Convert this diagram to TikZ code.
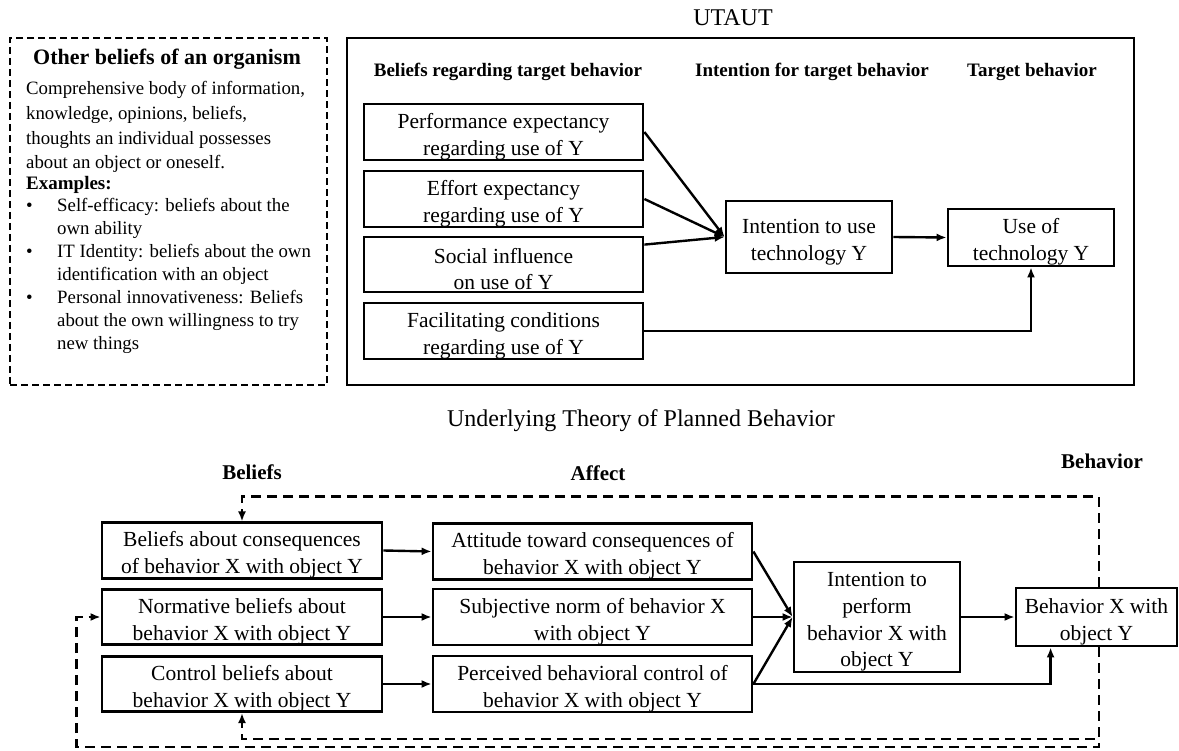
\documentclass[tikz,border=0pt]{standalone}
\usepackage{fontspec}
\setmainfont{Liberation Serif}
\usetikzlibrary{arrows.meta}
% taller first line, so that box texts sit a little lower in their frames
\newcommand\boxstrut{\rule{0pt}{1.12em}}
\begin{document}
\begin{tikzpicture}[x=1pt,y=-1pt,
  box/.style={draw, line width=2.8pt, inner sep=0pt, align=center,
    font=\fontsize{21.5}{26.6}\selectfont},
  frame/.style={draw, line width=2.8pt, inner sep=0pt},
  dframe/.style={draw, line width=2.3pt, dash pattern=on 7pt off 4pt, inner sep=0pt},
  hdr/.style={inner sep=0pt, font=\fontsize{19}{23}\selectfont\bfseries},
  hdrb/.style={inner sep=0pt, font=\fontsize{21}{25}\selectfont\bfseries},
  ttl/.style={inner sep=0pt, font=\fontsize{24}{28}\selectfont},
  txt/.style={inner sep=0pt, anchor=base west, font=\fontsize{18.8}{23}\selectfont},
  arr/.style={line width=2.4pt, -{Latex[length=10pt,width=8pt]}},
  fb/.style={line width=2.6pt, dash pattern=on 10pt off 6pt, -{Latex[length=10pt,width=8pt]}},
  ]
\useasboundingbox (0,0) rectangle (1179,751);

% ---------- other beliefs (dashed panel) ----------
\node[dframe, minimum width=317pt, minimum height=347pt] (obox) at (168.5,211.5) {};
\node[inner sep=0pt, anchor=base, font=\fontsize{22}{26}\selectfont\bfseries] (otitle) at (167,65) {Other beliefs of an organism};
\node[txt] (o1) at (26,95) {Comprehensive body of information,};
\node[txt] (o2) at (26,120) {knowledge, opinions, beliefs,};
\node[txt] (o3) at (26,144.5) {thoughts an individual possesses};
\node[txt] (o4) at (26,169) {about an object or oneself.};
\node[txt, font=\fontsize{19}{23}\selectfont\bfseries] (o5) at (26,189.5) {Examples:};
\node[txt] (b1) at (26,212) {•};
\node[txt] (e1) at (57,212) {Self-efficacy: beliefs about the};
\node[txt] (e2) at (57,235) {own ability};
\node[txt] (b2) at (26,258) {•};
\node[txt] (e3) at (57,258) {IT Identity: beliefs about the own};
\node[txt] (e4) at (57,281) {identification with an object};
\node[txt] (b3) at (26,304) {•};
\node[txt] (e5) at (57,304) {Personal innovativeness: Beliefs};
\node[txt] (e6) at (57,327) {about the own willingness to try};
\node[txt] (e7) at (57,350) {new things};

% ---------- UTAUT ----------
\node[ttl] (utitle) at (733,18) {UTAUT};
\node[frame, minimum width=787pt, minimum height=347pt] (uframe) at (740.5,211.5) {};
\node[hdr] (h1) at (508,72) {Beliefs regarding target behavior};
\node[hdr] (h2) at (812,72) {Intention for target behavior};
\node[hdr] (h3) at (1032,72) {Target behavior};

\node[box, minimum width=279pt, minimum height=56pt] (pe) at (503.5,132) {\boxstrut Performance expectancy\\regarding use of Y};
\node[box, minimum width=279pt, minimum height=56pt] (ee) at (503.5,199) {\boxstrut Effort expectancy\\regarding use of Y};
\node[box, minimum width=279pt, minimum height=55pt] (si) at (503.5,264.5) {\boxstrut Social influence\\on use of Y};
\node[box, minimum width=279pt, minimum height=56pt] (fc) at (503.5,331) {\boxstrut Facilitating conditions\\regarding use of Y};
\node[box, minimum width=166pt, minimum height=72pt] (iu) at (809,237) {\boxstrut Intention to use\\technology Y};
\node[box, minimum width=166pt, minimum height=57pt] (ut) at (1031,237.5) {\boxstrut Use of\\technology Y};

\draw[arr] (pe.east) -- (iu.west);
\draw[arr] (ee.east) -- (iu.west);
\draw[arr] ([yshift=-9pt]si.north east) -- (iu.west);
\draw[arr] (iu.east) -- (ut.west);
\draw[arr] (fc.east) -| (ut.south);

% ---------- Theory of Planned Behavior ----------
\node[ttl] (ttitle) at (641,421) {Underlying Theory of Planned Behavior};
\node[hdrb] (g1) at (252,472) {Beliefs};
\node[hdrb] (g2) at (598,473) {Affect};
\node[hdrb] (g3) at (1102,461) {Behavior};

\node[box, minimum width=280pt, minimum height=55pt] (bc) at (242,550.5) {\boxstrut Beliefs about consequences\\of behavior X with object Y};
\node[box, minimum width=280pt, minimum height=54pt] (bn) at (242,617) {\boxstrut Normative beliefs about\\behavior X with object Y};
\node[box, minimum width=280pt, minimum height=54pt] (bk) at (242,684) {\boxstrut Control beliefs about\\behavior X with object Y};

\node[box, minimum width=319pt, minimum height=55pt] (ac) at (592.5,551.5) {\boxstrut Attitude toward consequences of\\behavior X with object Y};
\node[box, minimum width=319pt, minimum height=56pt] (an) at (592.5,617) {\boxstrut Subjective norm of behavior X\\with object Y};
\node[box, minimum width=319pt, minimum height=56pt] (ak) at (592.5,684) {\boxstrut Perceived behavioral control of\\behavior X with object Y};

\node[box, minimum width=166pt, minimum height=110pt] (ip) at (877,617) {\boxstrut Intention to\\perform\\behavior X with\\object Y};
\node[box, minimum width=161pt, minimum height=58pt] (bx) at (1096.5,617) {\boxstrut Behavior X with\\object Y};

\draw[arr] (bc.east) -- (ac.west);
\draw[arr] (bn.east) -- (an.west);
\draw[arr] (bk.east) -- (ak.west);
\draw[arr] (ac.east) -- (ip.west);
\draw[arr] (an.east) -- (ip.west);
\draw[arr] (ak.east) -- (ip.west);
\draw[arr] (ip.east) -- (bx.west);
\draw[arr] (ak.east) -| ([xshift=36pt]bx.south west);

% feedback loops from behavior back to beliefs
\draw[fb] ([xshift=2.5pt]bx.north) |- ([yshift=25pt]bc.north) -- (bc.north);
\draw[fb] ([xshift=2.5pt]bx.south) |- ([yshift=-26pt]bk.south) -- (bk.south);
\draw[fb] ([xshift=2.5pt]bx.south) |- ([xshift=-24pt,yshift=-130pt]bn.west) |- (bn.west);
\end{tikzpicture}
\end{document}
